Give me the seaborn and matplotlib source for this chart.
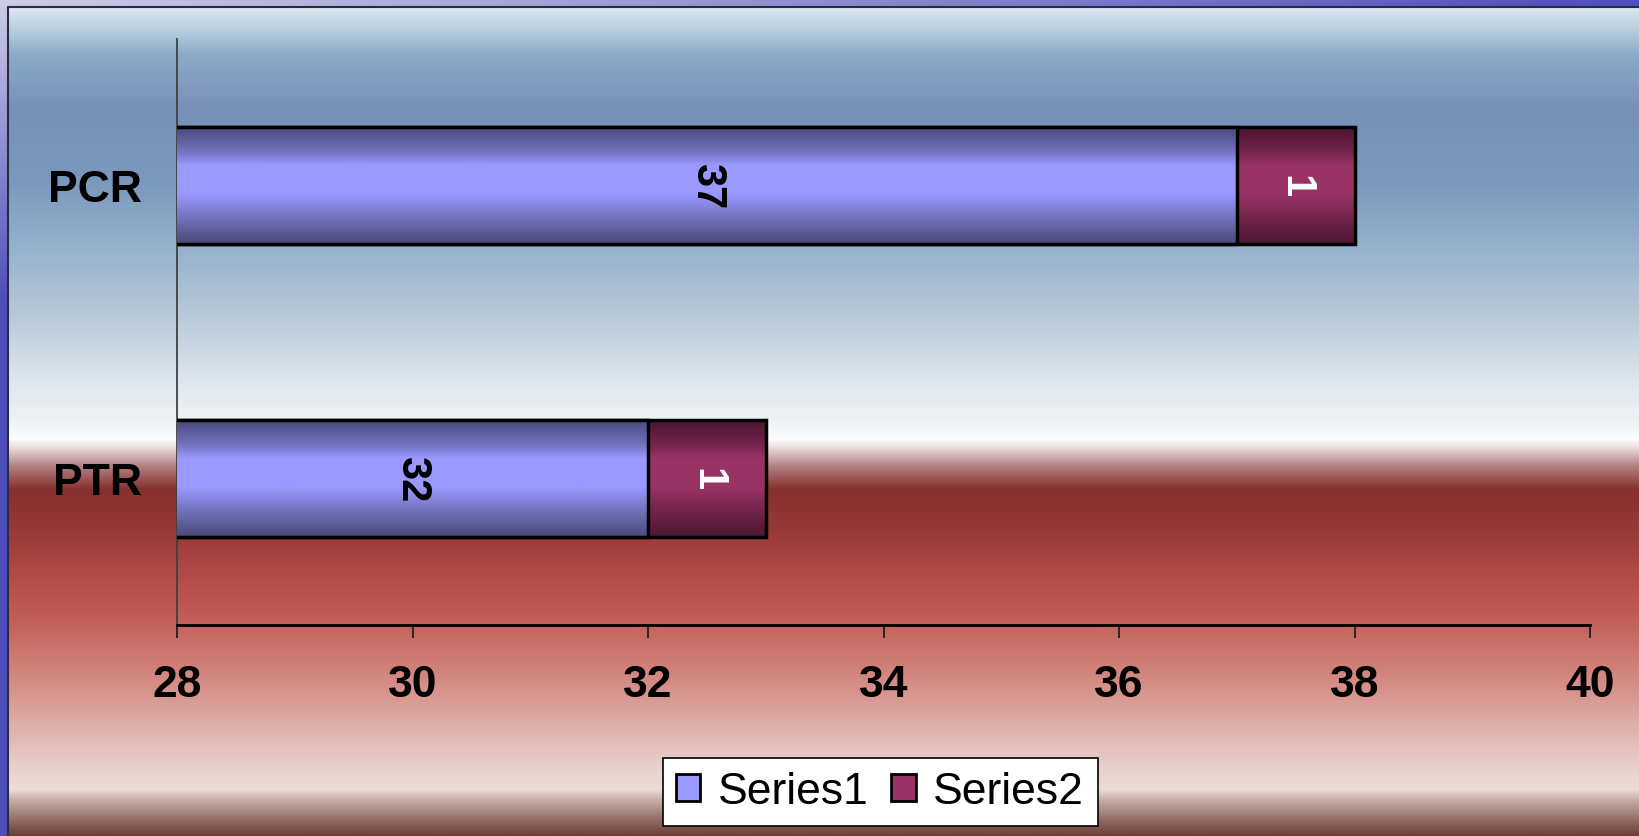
import numpy as np
import pandas as pd
import matplotlib
matplotlib.use("Agg")
import matplotlib.pyplot as plt
from matplotlib.patches import Patch
import seaborn as sns

# data
categories = ["PCR", "PTR"]
series1 = [37, 32]
series2 = [1, 1]
x_ticks = [28, 30, 32, 34, 36, 38, 40]
x_range = (28, 40)

sns.set_theme(style="white")
plt.rcParams["font.family"] = ["Liberation Sans", "DejaVu Sans"]

W, H = 1639, 837
fig = plt.figure(figsize=(W / 100, H / 100), dpi=100)

# --- background: purple frame + banded chart area ---
bg = fig.add_axes([0, 0, 1, 1], zorder=0)
bg.set_axis_off()
bg.set_xlim(0, W)
bg.set_ylim(H, 0)

yy, xx = np.mgrid[0:H:4, 0:W:4]
t = np.clip(xx / W + yy / 300, 0, 1)[..., None]
light = np.array([205, 205, 232]) / 255
dark = np.array([78, 78, 186]) / 255
bg.imshow(light * (1 - t) + dark * t, extent=[0, W, H, 0], aspect="auto")

stops = [
    (8, (218, 232, 240)), (30, (184, 207, 224)), (55, (140, 170, 200)),
    (110, (119, 144, 184)), (180, (122, 152, 188)), (250, (150, 178, 205)),
    (314, (184, 200, 216)), (380, (221, 230, 238)), (420, (238, 242, 245)),
    (440, (251, 252, 253)), (447, (240, 224, 224)), (467, (176, 128, 128)),
    (490, (134, 48, 46)), (530, (150, 58, 56)), (580, (180, 76, 72)),
    (613, (192, 90, 85)), (667, (208, 128, 120)), (717, (220, 168, 162)),
    (767, (232, 208, 204)), (790, (236, 220, 216)), (800, (200, 176, 168)),
    (817, (154, 120, 112)), (837, (106, 60, 52)),
]
ys = np.arange(8, H)
sy = [s[0] for s in stops]
band = np.stack([np.interp(ys, sy, [s[1][c] for s in stops]) for c in range(3)], axis=-1) / 255
bg.imshow(band[:, None, :], extent=[8, W, H, 8], aspect="auto", interpolation="bilinear")
bg.plot([8, 8], [8, H], color="#2a2a40", lw=1.5)
bg.plot([8, W], [8, 8], color="#2a2a40", lw=1.5)

# --- bars ---
df = pd.DataFrame({"category": categories, "series1": series1, "series2": series2})
df["total"] = df["series1"] + df["series2"]

ax = fig.add_axes([177 / W, 1 - 626 / H, (1590 - 177) / W, (626 - 40) / H], zorder=1)
ax.patch.set_alpha(0)

sns.barplot(data=df, x="total", y="category", orient="h", width=0.4, color="#993366",
            saturation=1, errorbar=None, ax=ax)
sns.barplot(data=df, x="series1", y="category", orient="h", width=0.4, color="#9999ff",
            saturation=1, errorbar=None, ax=ax)

def bar_grad(mid, edge_top, edge_bot, n=120):
    pos = [0, 0.22, 0.33, 0.58, 0.78, 1]
    cols = [edge_top, None, mid, mid, None, edge_bot]
    cols[1] = tuple(0.45 * a + 0.55 * b for a, b in zip(edge_top, mid))
    cols[4] = tuple(0.5 * a + 0.5 * b for a, b in zip(edge_bot, mid))
    p = np.linspace(0, 1, n)
    g = np.stack([np.interp(p, pos, [c[k] for c in cols]) for k in range(3)], axis=-1) / 255
    return g[:, None, :]

grad_s2 = bar_grad((153, 51, 102), (74, 20, 48), (78, 22, 50))
grad_s1 = bar_grad((153, 153, 255), (72, 72, 122), (74, 74, 120))

n = len(categories)
for i, p in enumerate(ax.patches):
    layer = i // n
    img = grad_s2 if layer == 0 else grad_s1
    x0, y0, w, h = p.get_x(), p.get_y(), p.get_width(), p.get_height()
    ax.imshow(img, extent=[x0, x0 + w, y0 + h, y0], aspect="auto",
              interpolation="bilinear", zorder=1 + 2 * layer)
    p.set_facecolor("none")
    p.set_edgecolor("black")
    p.set_linewidth(2.5)
    p.set_zorder(2 + 2 * layer)

ax.set_xlim(*x_range)
ax.set_ylim(len(categories) - 0.5, -0.5)

# value labels, centred in the visible part of each segment
for j in range(n):
    s1, s2 = series1[j], series2[j]
    ax.text((max(0, x_range[0]) + s1) / 2, j, str(s1), rotation=-90, ha="center",
            va="center", fontsize=30, fontweight="bold", color="black", zorder=6)
    ax.text(s1 + s2 / 2, j, str(s2), rotation=-90, ha="center", va="center",
            fontsize=30, fontweight="bold", color="white", zorder=6)

ax.set_xticks(x_ticks)
ax.set_xticklabels([str(v) for v in x_ticks], fontsize=32, fontweight="bold")
ax.set_yticks(range(n))
ax.set_yticklabels(categories, fontsize=32, fontweight="bold")
ax.tick_params(axis="x", bottom=True, direction="out", length=9.4, width=1.3,
               color="#202020", pad=19, labelcolor="black")
ax.tick_params(axis="y", left=False, length=0, pad=25, labelcolor="black")
ax.set_xlabel("")
ax.set_ylabel("")
for s in ["top", "right"]:
    ax.spines[s].set_visible(False)
ax.spines["left"].set_color("#404040")
ax.spines["left"].set_linewidth(1.3)
ax.spines["bottom"].set_color("black")
ax.spines["bottom"].set_linewidth(2)

handles = [Patch(facecolor="#9999ff", edgecolor="black", lw=2),
           Patch(facecolor="#993366", edgecolor="black", lw=2)]
leg = fig.legend(handles, ["Series1", "Series2"], loc="center",
                 bbox_to_anchor=(0.537, 0.0526), ncol=2, fontsize=32, frameon=True,
                 fancybox=False, edgecolor="black", framealpha=1, facecolor="white",
                 handlelength=0.55, handleheight=0.55, handletextpad=0.4,
                 columnspacing=0.5, borderpad=0.3)
leg.get_frame().set_linewidth(1.2)
for txt in leg.get_texts():
    txt.set_color("black")

fig.savefig("out.png", dpi=100)
